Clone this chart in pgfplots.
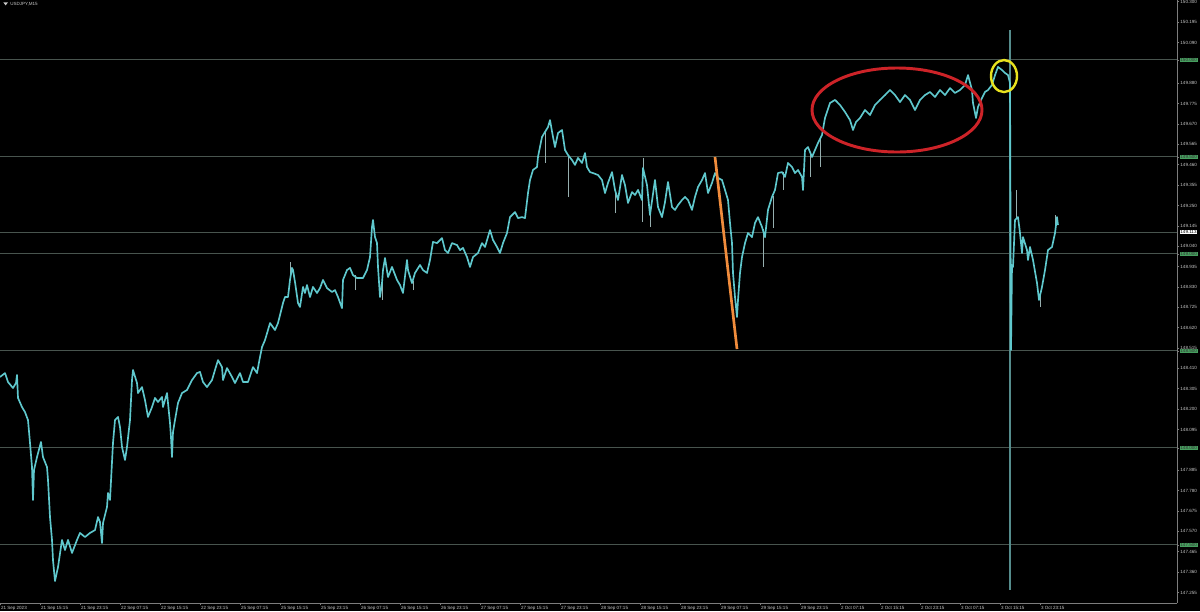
\documentclass[border=0pt]{standalone}
\usepackage{pgfplots}
\pgfplotsset{compat=1.18}
\usepackage{pgfplotstable}
\usepackage{fontspec}
\setmainfont{Liberation Sans}

\definecolor{candle}{RGB}{95,200,205}
\definecolor{wick}{RGB}{150,175,175}
\definecolor{level}{RGB}{72,84,78}
\definecolor{axisgray}{RGB}{125,125,125}
\definecolor{labgray}{RGB}{200,200,200}
\definecolor{lvlgreen}{RGB}{70,160,95}
\definecolor{ringred}{RGB}{205,35,40}
\definecolor{ringyellow}{RGB}{232,226,30}
\definecolor{trendorange}{RGB}{240,140,60}
\definecolor{spike}{RGB}{85,140,140}

% USDJPY M15, x = trading hours since 21 Sep 07:15, y = price
\pgfplotstableread{
h price
0 148.366
1 148.386
1.6 148.340
2.6 148.309
3.2 148.335
3.4 148.376
3.6 148.258
4.4 148.211
5 148.185
5.6 148.144
6 148.026
6.4 147.902
6.6 147.732
6.8 147.886
7.4 147.953
8.2 148.031
8.6 147.953
9.4 147.902
9.6 147.835
10 147.644
10.4 147.526
10.6 147.422
11 147.314
11.6 147.386
12.4 147.526
13 147.474
13.6 147.526
14.4 147.459
15.4 147.526
16 147.562
17 147.541
18 147.562
19 147.577
19.6 147.644
20 147.618
20.4 147.510
20.6 147.613
21.4 147.696
21.6 147.768
22 147.732
22.6 148.026
23 148.144
23.6 148.160
24 148.108
24.4 148.005
25 147.938
25.4 148.005
26 148.144
26.4 148.350
26.6 148.402
27.4 148.335
27.6 148.283
28.4 148.314
29 148.247
29.6 148.160
30.4 148.211
31 148.258
31.6 148.237
32.4 148.263
32.6 148.211
33.4 148.283
34 148.129
34.2 148.056
34.4 147.953
34.6 148.082
35 148.144
35.6 148.232
36.4 148.283
37.4 148.299
38.4 148.350
39.4 148.386
40 148.392
40.6 148.340
41.4 148.314
42.4 148.350
43 148.402
43.6 148.453
44.4 148.417
44.6 148.350
45.4 148.412
46.4 148.366
47 148.335
48 148.386
48.6 148.340
49.6 148.340
50.6 148.417
51.4 148.386
52 148.469
52.4 148.520
53 148.556
53.6 148.608
54 148.644
55 148.608
55.6 148.644
56 148.685
56.6 148.747
57 148.778
57.6 148.778
58 148.866
58.4 148.928
58.6 148.917
59 148.855
59.6 148.747
60 148.727
60.6 148.830
61 148.799
61.4 148.840
62 148.778
62.6 148.830
63.4 148.799
64 148.824
64.6 148.866
65.4 148.824
66.4 148.804
67 148.814
67.6 148.778
68.4 148.721
68.6 148.866
69.4 148.917
70 148.928
70.6 148.891
71.4 148.876
72 148.876
72.6 148.876
73.4 148.917
74 148.984
74.4 149.139
74.6 149.175
75 149.087
75.4 149.056
75.6 148.933
76 148.778
76.4 148.850
76.6 148.917
77 148.979
77.6 148.881
78.4 148.933
79.4 148.866
80 148.840
80.6 148.799
81.4 148.969
81.6 148.917
82.4 148.850
83 148.902
84 148.943
84.6 148.917
85.4 148.902
86 148.969
86.6 149.062
87.4 149.056
88.4 149.082
89 149.020
89.6 149.005
90.4 149.056
91.4 149.046
92 149.020
92.6 149.031
93.4 148.984
94 148.933
94.6 148.984
95.6 149.005
96.4 149.056
97 149.036
98 149.123
98.6 149.072
99.4 149.036
100 149.005
100.6 149.056
101.4 149.108
102 149.190
103 149.216
103.6 149.185
104.4 149.190
105 149.185
105.6 149.314
106 149.381
106.6 149.433
107.4 149.448
107.6 149.500
108.4 149.603
109 149.629
109.6 149.654
110 149.690
110.6 149.603
111 149.551
111.6 149.623
112.4 149.639
113 149.536
113.6 149.510
114.4 149.484
115 149.459
115.6 149.495
116.4 149.469
117 149.520
117.4 149.448
118 149.422
118.6 149.417
119.6 149.407
120.4 149.381
121 149.314
121.6 149.366
122.4 149.422
123 149.330
123.6 149.278
124.4 149.407
125 149.355
125.6 149.263
126.4 149.319
127 149.304
127.6 149.330
128.4 149.278
128.6 149.443
129.4 149.355
130 149.201
131 149.381
131.6 149.242
132.4 149.190
133 149.268
133.6 149.371
134.4 149.242
135 149.227
135.6 149.252
136.4 149.278
137 149.294
137.6 149.278
138.4 149.227
139 149.294
139.6 149.345
140.4 149.381
141 149.417
141.6 149.314
142.4 149.366
143 149.417
143.6 149.392
144.4 149.381
145 149.330
145.6 149.278
146 149.160
146.4 149.056
146.6 148.902
147 148.778
147.4 148.675
147.6 148.763
148 148.902
148.4 148.984
149 149.056
149.6 149.108
150.4 149.087
151 149.160
151.6 149.190
152.4 149.139
153 149.087
153.6 149.227
154.4 149.294
155 149.330
155.6 149.417
156.4 149.422
157 149.397
157.6 149.469
158.4 149.448
159 149.417
159.6 149.433
160.4 149.397
160.6 149.330
161 149.536
161.6 149.551
162.4 149.500
163 149.536
163.6 149.572
164.4 149.613
165 149.701
166 149.778
167 149.794
168 149.768
169 149.732
170 149.690
170.6 149.639
171.2 149.680
172 149.701
173 149.742
174 149.716
175 149.768
176 149.794
177 149.819
178 149.845
179 149.819
180 149.783
181 149.819
182 149.794
183 149.742
184 149.794
185 149.819
186 149.835
187 149.809
188 149.845
189 149.819
190 149.855
191 149.830
192 149.845
193 149.871
193.6 149.922
194.4 149.845
194.6 149.778
195.2 149.701
195.6 149.758
196.4 149.804
197 149.835
197.6 149.845
198.4 149.871
199 149.922
199.6 149.964
200.4 149.948
201 149.933
201.6 149.922
202 149.881
202.2 148.505
202.4 148.943
202.6 148.933
203 149.175
203.6 149.190
204 149.108
204.4 149.005
204.6 149.087
205.4 149.020
205.6 148.969
206 149.036
206.6 148.969
207.4 148.850
207.8 148.763
208.4 148.830
209 148.917
209.6 149.020
210.4 149.036
211 149.108
211.4 149.190
211.6 149.149
}\usdjpy

% single-bar wicks: time, low, high
\pgfplotstableread{
h low high
58 148.866 148.959
71 148.814 148.890
76.4 148.763 148.850
82.6 148.814 148.860
109 149.469 149.629
113.6 149.294 149.510
123 149.211 149.330
128.4 149.165 149.278
128.6 149.443 149.495
130 149.139 149.201
152.6 148.933 149.130
154.6 149.134 149.300
156.6 149.330 149.420
162 149.397 149.520
164 149.448 149.590
203.2 149.180 149.330
208 148.727 148.790
211 149.108 149.201
}\wicks

\begin{document}
\begin{tikzpicture}
\fill[black] (0,-6pt) rectangle (900pt,452.25pt);
\begin{axis}[
    at={(0,0)}, anchor=south west,
    scale only axis, width=882.75pt, height=452.25pt,
    xmin=0, xmax=235.4, ymin=147.201, ymax=150.309,
    clip=false,
    axis x line*=bottom, axis y line*=right,
    axis line style={axisgray, line width=0.6pt, -},
    tick align=outside, major tick length=1.8pt,
    tick style={axisgray, line width=0.5pt},
    xtick={0,8,...,208},
    xticklabels={21 Sep 2023, 21 Sep 15:15, 21 Sep 23:15, 22 Sep 07:15, 22 Sep 15:15, 22 Sep 23:15,
        25 Sep 07:15, 25 Sep 15:15, 25 Sep 23:15, 26 Sep 07:15, 26 Sep 15:15, 26 Sep 23:15,
        27 Sep 07:15, 27 Sep 15:15, 27 Sep 23:15, 28 Sep 07:15, 28 Sep 15:15, 28 Sep 23:15,
        29 Sep 07:15, 29 Sep 15:15, 29 Sep 23:15, 2 Oct 07:15, 2 Oct 15:15, 2 Oct 23:15,
        3 Oct 07:15, 3 Oct 15:15, 3 Oct 23:15},
    xticklabel style={anchor=north west, inner sep=0.6pt, text=labgray,
        font=\fontsize{3.4}{4}\selectfont},
    ytick={147.255,147.360,147.465,147.570,147.675,147.780,147.885,148.095,148.200,148.305,
        148.410,148.515,148.620,148.725,148.830,148.935,149.040,149.145,149.250,149.355,
        149.460,149.565,149.670,149.775,149.880,150.090,150.195,150.300},
    y tick label style={anchor=west, inner sep=0.6pt, text=labgray,
        font=\fontsize{3.4}{4}\selectfont,
        /pgf/number format/fixed, /pgf/number format/precision=3,
        /pgf/number format/fixed zerofill, /pgf/number format/assume math mode=true},
    extra y ticks={147.5,148,148.5,149,149.5,150},
    extra y tick style={grid=major, major grid style={level, line width=0.75pt},
        y tick label style={fill=lvlgreen, text=black!80}},
]
\addplot[spike, line width=0.9pt] coordinates {(202,150.155) (202,147.268)};
\draw[level, line width=0.75pt] (axis cs:0,149.113) -- (axis cs:235.4,149.113);
\node[anchor=west, fill=white, text=black, inner sep=0.6pt, xshift=1.8pt,
    font=\fontsize{3.4}{4}\selectfont] at (axis cs:235.4,149.113) {149.113};
\addplot[draw=none, mark=none, forget plot,
    error bars/.cd, y dir=plus, y explicit, error mark=none,
    error bar style={wick, line width=0.5pt}]
    table[x=h, y=low, y error expr=\thisrow{high}-\thisrow{low}] {\wicks};
\addplot[candle, line width=1.25pt, line join=round, mark=none] table[x=h, y=price] {\usdjpy};
\draw[ringred, line width=2.2pt] (axis cs:179.4,149.742) ellipse [x radius=63.75pt, y radius=31.5pt];
\draw[ringyellow, line width=1.8pt] (axis cs:200.8,149.917) ellipse [x radius=9.75pt, y radius=12pt];
\draw[trendorange, line width=2pt] (axis cs:143,149.500) -- (axis cs:147.4,148.510);
\end{axis}
\fill[labgray] (2.5pt,450.5pt) -- (6pt,450.5pt) -- (4.25pt,448.2pt) -- cycle;
\node[anchor=west, text=labgray, inner sep=0pt, font=\fontsize{3.4}{4}\selectfont] at (7.5pt,449.4pt) {USDJPY,M15};
\pgfresetboundingbox
\path[use as bounding box] (0,-6pt) rectangle (900pt,452.25pt);
\end{tikzpicture}
\end{document}
